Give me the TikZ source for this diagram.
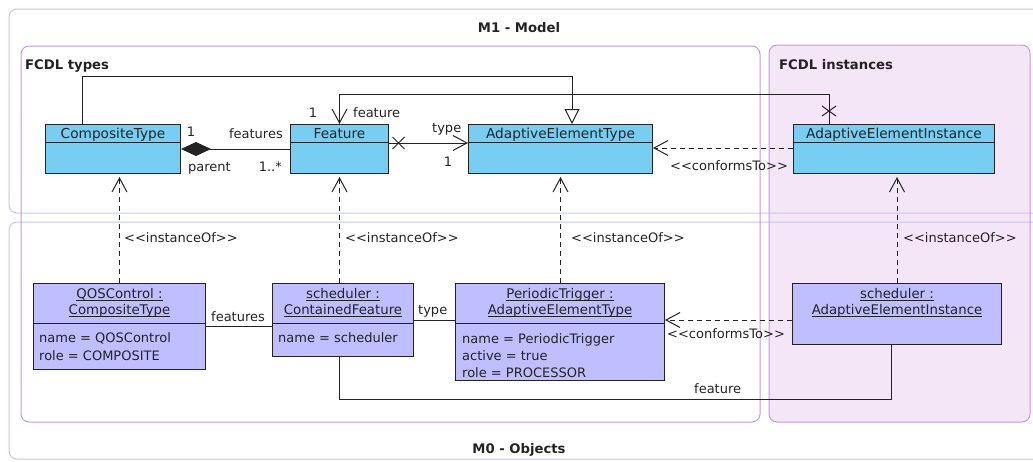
\documentclass[tikz,border=0pt]{standalone}
\usepackage{fontspec}
\newfontfamily\dv{DejaVu Sans}
\usetikzlibrary{arrows.meta,calc}
\definecolor{clsfill}{RGB}{120,206,242}
\definecolor{objfill}{RGB}{191,191,255}
\definecolor{pinkfill}{RGB}{244,230,247}
\definecolor{mcol}{RGB}{196,196,248}
\definecolor{fcol}{RGB}{200,150,228}
\definecolor{ink}{RGB}{35,35,35}
\newcommand\myul[1]{\sbox0{#1}\rlap{\rule[-2.6pt]{\wd0}{0.7pt}}\usebox0}
\begin{document}
\begin{tikzpicture}[x=1pt,y=-1pt,font=\dv,
  every node/.style={inner sep=0pt, text=ink},
  cls/.style={draw=ink, line width=1pt, fill=clsfill, anchor=north west, inner sep=0pt},
  obj/.style={draw=ink, line width=1pt, fill=objfill, anchor=north west, inner sep=0pt},
  nm/.style={font=\dv\fontsize{13.3}{15}\selectfont, anchor=base},
  cnm/.style={font=\dv\fontsize{13.7}{15}\selectfont, anchor=base},
  attrtxt/.style={font=\dv\fontsize{13}{15}\selectfont, anchor=base west},
  lb/.style={font=\dv\fontsize{13}{15}\selectfont, anchor=base},
  lbw/.style={lb, anchor=base west},
  lbe/.style={lb, anchor=base east},
  ttl/.style={font=\dv\bfseries\fontsize{13.2}{15}\selectfont, anchor=base},
  conn/.style={draw=ink, line width=1pt},
  dep/.style={conn, dash pattern=on 5pt off 4pt},
  barb/.style={-{Straight Barb[length=14pt,width=15pt]}},
  mframe/.style={draw=mcol, line width=1pt, rounded corners=8pt},
  fframe/.style={draw=fcol, line width=1pt, rounded corners=8pt},
]
\useasboundingbox (0,0) rectangle (1033,461);
\clip (0,0) rectangle (1033,461);

% frames
\fill[pinkfill, rounded corners=8pt] (769,45) rectangle (1030,422);
\draw[mframe] (9,9) rectangle (1045,213);
\draw[mframe] (9,222) rectangle (1045,459);
\draw[fframe] (21,46) rectangle (760,422);
\draw[fframe] (769,45) rectangle (1030,422);

\node[ttl] (m1t) at (519,32) {M1 - Model};
\node[ttl] (m0t) at (519,453) {M0 - Objects};
\node[ttl, anchor=base west] (fty) at (25,69) {FCDL types};
\node[ttl, anchor=base west] (fin) at (779,69) {FCDL instances};

% M1 classes
\node[cls, minimum width=135pt, minimum height=49pt] (ct) at (45,124) {};
\node[cls, minimum width=98pt, minimum height=49pt] (fe) at (290,124) {};
\node[cls, minimum width=184pt, minimum height=49pt] (aet) at (468,124) {};
\node[cls, minimum width=201pt, minimum height=49pt] (aei) at (793,124) {};
\foreach \b in {ct,fe,aet,aei}{
  \draw[conn] ($(\b.north west)+(0,18)$) -- ($(\b.north east)+(0,18)$);
}
\node[cnm] (cth) at ($(ct.north)+(0,14)$) {CompositeType};
\node[cnm] (feh) at ($(fe.north)+(0,14)$) {Feature};
\node[cnm] (aeth) at ($(aet.north)+(0,14)$) {AdaptiveElementType};
\node[cnm] (aeih) at ($(aei.north)+(0,14)$) {AdaptiveElementInstance};

% M0 objects
\node[obj, minimum width=172pt, minimum height=86pt] (qos) at (33,283) {};
\node[obj, minimum width=141pt, minimum height=73pt] (sch) at (272,283) {};
\node[obj, minimum width=209pt, minimum height=97pt] (pt) at (455,283) {};
\node[obj, minimum width=209pt, minimum height=61pt] (sai) at (792,283) {};
\foreach \b in {qos,sch,pt}{
  \draw[conn] ($(\b.north west)+(0,40)$) -- ($(\b.north east)+(0,40)$);
}
\node[nm] (qh1) at ($(qos.north)+(0,15)$) {\myul{QOSControl :}};
\node[nm] (qh2) at ($(qos.north)+(0,31)$) {\myul{CompositeType}};
\node[nm] (sh1) at ($(sch.north)+(0,15)$) {\myul{scheduler :}};
\node[nm] (sh2) at ($(sch.north)+(0,31)$) {\myul{ContainedFeature}};
\node[nm] (ph1) at ($(pt.north)+(0,15)$) {\myul{PeriodicTrigger :}};
\node[nm] (ph2) at ($(pt.north)+(0,31)$) {\myul{AdaptiveElementType}};
\node[nm] (ih1) at ($(sai.north)+(0,15)$) {\myul{scheduler :}};
\node[nm] (ih2) at ($(sai.north)+(0,31)$) {\myul{AdaptiveElementInstance}};

\node[attrtxt] (qa1) at ($(qos.north west)+(6,59.5)$) {name = QOSControl};
\node[attrtxt] (qa2) at ($(qos.north west)+(6,77)$) {role = COMPOSITE};
\node[attrtxt] (sa1) at ($(sch.north west)+(6,59.5)$) {name = scheduler};
\node[attrtxt] (pa1) at ($(pt.north west)+(7,60)$) {name = PeriodicTrigger};
\node[attrtxt] (pa2) at ($(pt.north west)+(7,77)$) {active = true};
\node[attrtxt] (pa3) at ($(pt.north west)+(7,94)$) {role = PROCESSOR};

% generalization CompositeType -> AdaptiveElementType
\coordinate (genbend) at (572,76);
\draw[conn, -{Triangle[open, fill=white, length=15pt, width=15pt]}]
  ($(ct.north west)+(37,0)$) |- (genbend) -- (genbend |- aet.north);

% navigable association AdaptiveElementInstance -> Feature
\coordinate (navbend) at (829,94);
\draw[conn, barb] (navbend |- aei.north) -- (navbend) -| (fe.north);
\coordinate (x2) at (829,111);
\draw[conn] ($(x2)+(-7,-5)$) -- ($(x2)+(7,5)$) ($(x2)+(-7,5)$) -- ($(x2)+(7,-5)$);
\node[lb] (l1a) at (313,117) {1};
\node[lbw] (l1b) at (353,117) {feature};

% composition CompositeType <>- Feature
\draw[conn, {Diamond[length=30pt, width=14pt]}-] (ct.east) -- (fe.west);
\node[lb] (l2a) at (191,136) {1};
\node[lbe] (l2b) at (283,138) {features};
\node[lbw] (l2c) at (188,171) {parent};
\node[lbe] (l2d) at (282,171) {1..*};

% Feature -> AdaptiveElementType (type)
\draw[conn, barb] ($(fe.north east)+(0,19)$) -- ($(aet.north west)+(0,19)$);
\coordinate (x1) at (398.5,143);
\draw[conn] ($(x1)+(-6,-6)$) -- ($(x1)+(6,6)$) ($(x1)+(-6,6)$) -- ($(x1)+(6,-6)$);
\node[lbw] (l3a) at (432,132) {type};
\node[lb] (l3b) at (448,166) {1};

% conformsTo (M1)
\draw[dep, barb] ($(aei.north west)+(0,24)$) -- ($(aet.north east)+(0,24)$);
\node[lbw] (l4) at (670,170) {<<conformsTo>>};

% instanceOf
\draw[dep, barb, shorten >=3pt] (qos.north) -- (qos.north |- ct.south);
\draw[dep, barb, shorten >=3pt] (fe.south |- sch.north) -- (fe.south);
\draw[dep, barb, shorten >=3pt] (aet.south |- pt.north) -- (aet.south);
\draw[dep, barb, shorten >=3pt] (sai.north) -- (sai.north |- aei.south);
\node[lbw] (i1) at (124,242) {<<instanceOf>>};
\node[lbw] (i2) at (345,242) {<<instanceOf>>};
\node[lbw] (i3) at (571,242) {<<instanceOf>>};
\node[lbw] (i4) at (903,242) {<<instanceOf>>};

% M0 links
\draw[conn] (qos.east) -- (qos.east -| sch.west);
\node[lbw] (l5) at (211,321) {features};
\draw[conn] (sch.east) -- (sch.east -| pt.west);
\node[lbw] (l6) at (418,314) {type};
\draw[dep, barb] ($(sai.north west)+(0,37)$) -- ($(pt.north east)+(0,37)$);
\node[lbw] (l7) at (667,338) {<<conformsTo>>};
\coordinate (fbend) at (339,399);
\draw[conn] (sch.south -| fbend) -- (fbend) -| ($(sai.south west)+(99,0)$);
\node[lbw] (l8) at (694,393) {feature};
\end{tikzpicture}
\end{document}
